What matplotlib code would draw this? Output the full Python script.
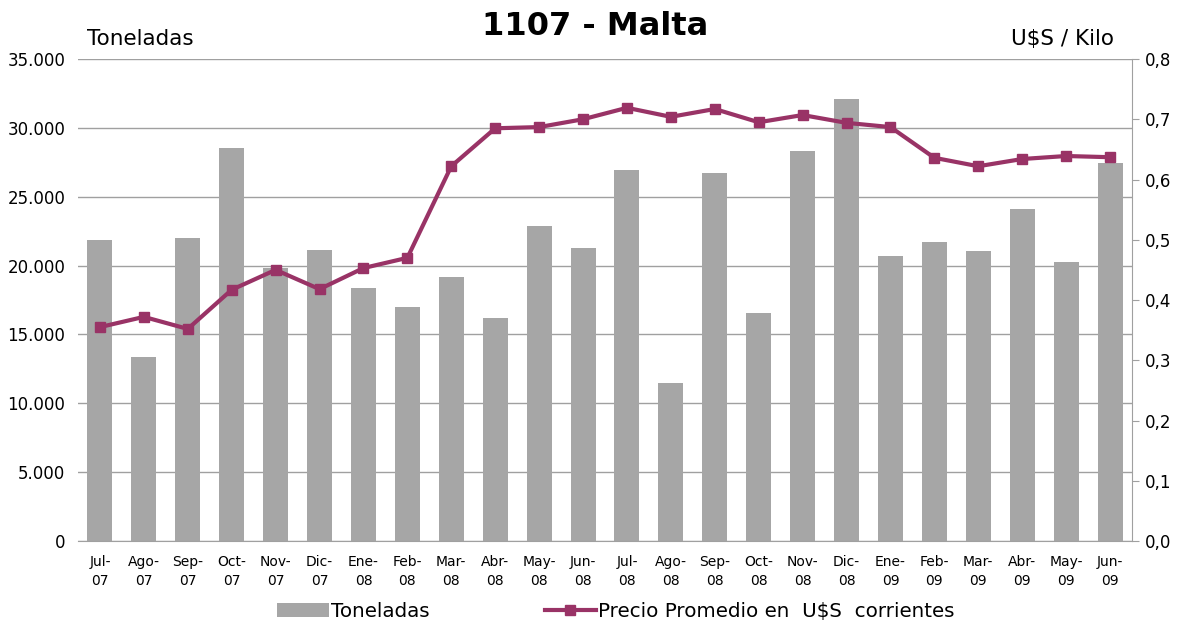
import matplotlib.pyplot as plt
import numpy as np

meses = ["Jul-\n07", "Ago-\n07", "Sep-\n07", "Oct-\n07", "Nov-\n07", "Dic-\n07",
         "Ene-\n08", "Feb-\n08", "Mar-\n08", "Abr-\n08", "May-\n08", "Jun-\n08",
         "Jul-\n08", "Ago-\n08", "Sep-\n08", "Oct-\n08", "Nov-\n08", "Dic-\n08",
         "Ene-\n09", "Feb-\n09", "Mar-\n09", "Abr-\n09", "May-\n09", "Jun-\n09"]

toneladas = [21860, 13360, 22000, 28540, 19830, 21130, 18370, 16990, 19170, 16190,
             22870, 21280, 26940, 11470, 26720, 16560, 28320, 32100, 20700, 21710,
             21060, 24110, 20260, 27450]

precio = [0.355, 0.372, 0.352, 0.417, 0.450, 0.418, 0.453, 0.470, 0.622, 0.685,
          0.687, 0.700, 0.719, 0.704, 0.717, 0.695, 0.707, 0.694, 0.687, 0.636,
          0.622, 0.634, 0.639, 0.637]

left_ticks = [0, 5000, 10000, 15000, 20000, 25000, 30000, 35000]
right_ticks = [0.0, 0.1, 0.2, 0.3, 0.4, 0.5, 0.6, 0.7, 0.8]

bar_color = "#a6a6a6"
line_color = "#993366"
grid_color = "#a0a0a0"

fig = plt.figure(figsize=(11.8, 6.21), dpi=100)
ax = fig.add_axes([0.0661, 0.1288, 0.8932, 0.7762])
x = np.arange(len(meses))

bars = ax.bar(x, toneladas, width=0.57, color=bar_color, label="Toneladas", zorder=2)
ax.set_xlim(-0.5, len(meses) - 0.5)
ax.set_ylim(0, 35000)
ax.set_yticks(left_ticks)
ax.set_yticklabels([f"{v:,}".replace(",", ".") for v in left_ticks], fontsize=12)
ax.set_xticks(x)
ax.set_xticklabels(meses, fontsize=10, linespacing=1.5)
ax.tick_params(axis="y", length=0, pad=9)
ax.tick_params(axis="x", length=0, pad=10)
ax.grid(axis="y", color=grid_color, linewidth=1, zorder=0)
for s in ["top", "left", "right"]:
    ax.spines[s].set_visible(False)
ax.spines["bottom"].set_color(grid_color)

ax2 = ax.twinx()
line, = ax2.plot(x, precio, color=line_color, linewidth=3, marker="s", markersize=7,
                 label="Precio Promedio en  U$S  corrientes", zorder=3)
ax2.set_ylim(0, 0.8)
ax2.set_yticks(right_ticks)
ax2.set_yticklabels([f"{v:.1f}".replace(".", ",") for v in right_ticks], fontsize=12)
ax2.tick_params(axis="y", length=5, color=grid_color, pad=4)
for s in ["top", "left", "bottom"]:
    ax2.spines[s].set_visible(False)
ax2.spines["right"].set_color(grid_color)

fig.text(0.504, 0.958, "1107 - Malta", ha="center", va="center", fontsize=23, fontweight="bold")
fig.text(0.074, 0.938, "Toneladas", ha="left", va="center", fontsize=15.5)
fig.text(0.944, 0.938, "U$S / Kilo", ha="right", va="center", fontsize=15.5)

fig.legend([bars, line], ["Toneladas", "Precio Promedio en  U$S  corrientes"],
           loc="center", bbox_to_anchor=(0.522, 0.015), ncol=2, frameon=False,
           fontsize=14.3, columnspacing=5.8, handlelength=2.6, handletextpad=0.1)

fig.savefig("out.png", dpi=100)
